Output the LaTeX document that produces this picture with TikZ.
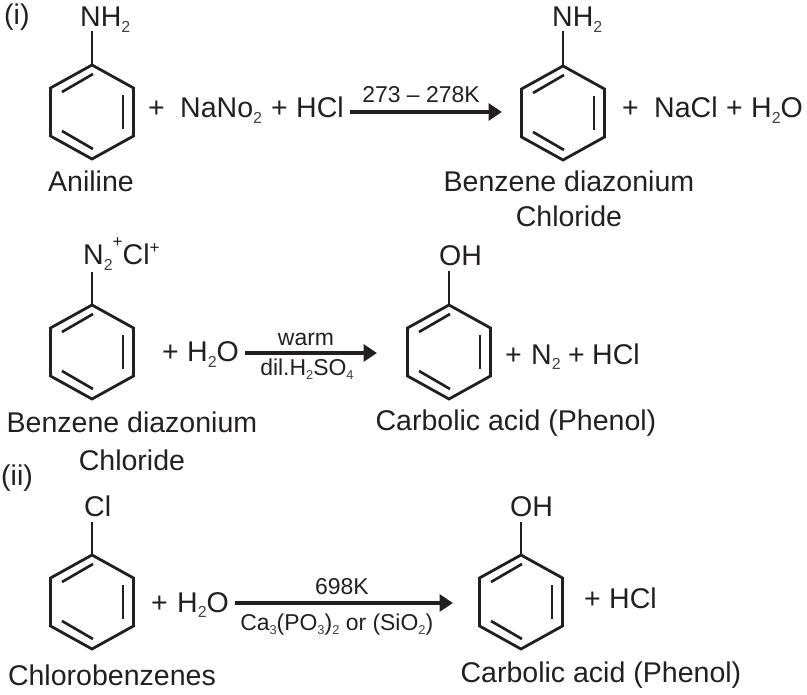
\documentclass[tikz,border=0pt]{standalone}
\usepackage{fontspec}
\setmainfont{Liberation Sans}
\usetikzlibrary{arrows.meta}
\definecolor{myink}{RGB}{35, 31, 32}
\newcommand{\lowtxt}[1]{\raisebox{-0.21em}{\scalebox{0.56}{\color{myink!85}#1}}}
\newcommand{\hightxt}[2][0.42em]{\raisebox{#1}{\scalebox{0.6}{#2}}}
\tikzset{
    bigtxt/.style={anchor=base west, inner sep=0pt, xshift=-0.8pt, text=myink, font=\fontsize{21.4}{24}\selectfont},
    smalltxt/.style={anchor=base west, inner sep=0pt, text=myink, font=\fontsize{17.2}{20}\selectfont},
    ringline/.style={draw=myink, line width=2.1pt, line join=miter},
    innerline/.style={draw=myink, line width=2pt},
    reactarrow/.style={draw=myink, line width=2.5pt, -{Triangle[length=10pt, width=12.5pt]}}
}

\begin{document}
\begin{tikzpicture}[x=0.75pt, y=-0.75pt]
    \useasboundingbox (0, 0) rectangle (807, 695);

    % Vòng benzene: tên / tâm x / tâm y / đầu liên kết
    \foreach \name/\cx/\cy/\tip in {ra/92/112/31, rb/563/113/31, rc/92/352/272, rd/449/352/271, re/92/602/522, rf/521/602/522} {
        \begin{scope}[shift={(\cx, \cy)}]
            \draw[ringline] (0, -47) coordinate (\name top) -- (41.5, -24) -- (41.5, 24) -- (0, 47) -- (-41.5, 24) -- (-41.5, -24) -- cycle;
            \draw[innerline] (-30, -20) -- (1, -38);
            \draw[innerline] (31, -17) -- (31, 17);
            \draw[innerline] (-30, 19) -- (1, 37);
        \end{scope}
        \coordinate (\name tip) at (\cx, \tip);
        \draw[ringline] (\name top) -- (\name tip);
    }

    % 1. Phản ứng (i), dòng đầu
    \node[bigtxt] (labi) at (5, 25) {(i)};
    \node[bigtxt] (nha) at (81, 27) {NH\lowtxt{2}};
    \node[bigtxt] (plusa) at (149, 118) {+};
    \node[bigtxt] (nano) at (181, 118) {NaNo\lowtxt{2}};
    \node[bigtxt] (plusb) at (272, 118) {+};
    \node[bigtxt] (hcla) at (297, 118) {HCl};
    \node[smalltxt, anchor=base] (tempa) at (421, 103) {273 – 278K};
    \coordinate (arra) at (350, 112);
    \coordinate (arrb) at (502, 112);
    \draw[reactarrow] (arra) -- (arrb);
    \node[bigtxt] (nhb) at (553, 27) {NH\lowtxt{2}};
    \node[bigtxt] (plusc) at (623, 118) {+};
    \node[bigtxt] (nacl) at (655, 118) {NaCl};
    \node[bigtxt] (plusd) at (727, 118) {+};
    \node[bigtxt] (watera) at (752, 118) {H\lowtxt{2}O};
    \node[bigtxt, anchor=base] (aniline) at (92, 192) {Aniline};
    \node[bigtxt, anchor=base] (diaza) at (570, 192) {Benzene diazonium};
    \node[bigtxt, anchor=base] (chlora) at (570, 227) {Chloride};

    % 2. Dòng thứ hai
    \node[bigtxt] (diazo) at (84, 265) {N\lowtxt{2}\hightxt[0.62em]{+}Cl\hightxt{+}};
    \node[bigtxt] (pluse) at (163, 362) {+};
    \node[bigtxt] (waterb) at (188, 362) {H\lowtxt{2}O};
    \node[smalltxt, anchor=base] (warm) at (306, 346) {warm};
    \coordinate (arrc) at (245, 353);
    \coordinate (arrd) at (377, 353);
    \draw[reactarrow] (arrc) -- (arrd);
    \node[smalltxt] (acid) at (260, 375) {dil.H\lowtxt{2}SO\lowtxt{4}};
    \node[bigtxt] (oha) at (440, 266) {OH};
    \node[bigtxt] (plusf) at (506, 364) {+};
    \node[bigtxt] (ntwo) at (532, 364) {N\lowtxt{2}};
    \node[bigtxt] (plusg) at (569, 364) {+};
    \node[bigtxt] (hclb) at (593, 364) {HCl};
    \node[bigtxt, anchor=base] (phenola) at (517, 430) {Carbolic acid (Phenol)};
    \node[bigtxt, anchor=base] (diazb) at (133, 432) {Benzene diazonium};
    \node[bigtxt, anchor=base] (chlorb) at (133, 470) {Chloride};

    % 3. Phản ứng (ii)
    \node[bigtxt] (labii) at (2, 485) {(ii)};
    \node[bigtxt] (cl) at (85, 516) {Cl};
    \node[bigtxt] (plush) at (152, 612) {+};
    \node[bigtxt] (waterc) at (178, 612) {H\lowtxt{2}O};
    \node[smalltxt, anchor=base] (tempb) at (342, 594) {698K};
    \coordinate (arre) at (235, 603);
    \coordinate (arrf) at (453, 603);
    \draw[reactarrow] (arre) -- (arrf);
    \node[smalltxt] (catal) at (240, 630) {Ca\lowtxt{3}(PO\lowtxt{3})\lowtxt{2} or (SiO\lowtxt{2})};
    \node[bigtxt] (ohb) at (511, 516) {OH};
    \node[bigtxt] (plusi) at (585, 608) {+};
    \node[bigtxt] (hclc) at (610, 608) {HCl};
    \node[bigtxt, anchor=base] (chlorob) at (113, 685) {Chlorobenzenes};
    \node[bigtxt, anchor=base] (phenolb) at (602, 682) {Carbolic acid (Phenol)};
\end{tikzpicture}
\end{document}
